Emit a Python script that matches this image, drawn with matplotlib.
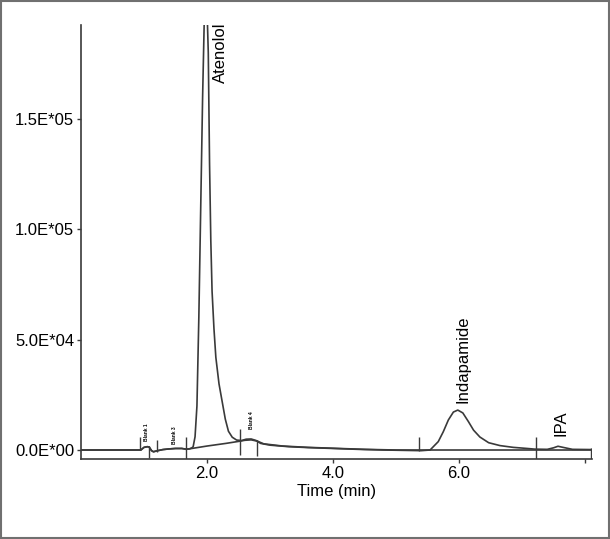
import matplotlib.pyplot as plt
from matplotlib.patches import Rectangle

plt.rcParams["font.family"] = ["Liberation Sans", "DejaVu Sans"]

# sample chromatogram (time in min, detector response)
sampleTime = [0.0, 0.9, 0.95, 1.0, 1.05, 1.08, 1.12, 1.15, 1.2, 1.3, 1.4, 1.5, 1.6, 1.67,
              1.72, 1.76, 1.78, 1.81, 1.84, 1.87, 1.90, 1.93, 1.96, 1.98, 2.0, 2.02, 2.04,
              2.06, 2.08, 2.11, 2.14, 2.19, 2.24, 2.29, 2.34, 2.40, 2.47, 2.55, 2.62, 2.7,
              2.78, 2.85, 3.0, 3.3, 3.6, 4.0, 4.4, 4.8, 5.4, 5.54, 5.67, 5.75, 5.83, 5.91,
              5.98, 6.06, 6.15, 6.23, 6.33, 6.47, 6.65, 6.86, 7.08, 7.2, 7.4, 7.5, 7.57,
              7.65, 7.8, 8.11]
sampleSignal = [0, 0, 0, 1200, 1500, 1400, -300, -800, -400, 200, 500, 700, 700, 400,
                500, 1000, 1500, 6000, 20000, 60000, 110000, 160000, 200000, 205000, 200000,
                180000, 130000, 95000, 72000, 55000, 42000, 30000, 22000, 14000, 8500, 5800,
                4500, 4300, 4900, 5000, 4300, 3000, 2200, 1500, 1100, 700, 300, 0, -300, 0,
                3800, 8300, 13600, 17200, 18100, 16800, 12800, 9000, 5900, 3300, 2000, 1200,
                700, 400, 300, 1000, 1700, 1200, 300, 200]

# blank chromatogram
blankTime = [0.0, 0.9, 0.95, 1.0, 1.05, 1.08, 1.12, 1.15, 1.2, 1.3, 1.4, 1.5, 1.6, 1.67,
             2.0, 2.3, 2.5, 2.6, 2.7, 2.8, 2.9, 3.2, 3.6, 4.0, 4.5, 5.0, 6.0, 7.0, 8.11]
blankSignal = [0, 0, 0, 1200, 1500, 1400, -300, -800, -400, 200, 500, 700, 700, 300,
               1800, 3000, 3900, 4400, 4600, 4000, 2800, 1800, 1200, 800, 300, 0, 0, 0, 0]

# integration event markers
markerTimes = [0.94, 1.08, 1.2, 1.67, 2.52, 2.8, 5.37, 7.22, 8.1]
markerLow = [0, -3600, -900, -4000, -2300, -2700, -300, -4000, -4000]
markerHigh = [5800, 1800, 4500, 5900, 9500, 4500, 5900, 5900, 1000]

yTicks = [0, 50000, 100000, 150000]
yTickLabels = ["0.0E*00", "5.0E*04", "1.0E*05", "1.5E*05"]
xTicks = [2, 4, 6, 8]
xTickLabels = ["2.0", "4.0", "6.0", ""]

lineColor = "#3a3a3a"

fig = plt.figure(figsize=(6.1, 5.39), dpi=100)
ax = fig.add_axes([0.1328, 0.1484, 0.8377, 0.8052])

ax.plot(blankTime, blankSignal, color=lineColor, linewidth=1.2)
ax.plot(sampleTime, sampleSignal, color=lineColor, linewidth=1.2)
ax.vlines(markerTimes, markerLow, markerHigh, color=lineColor, linewidth=1.0)

# peak labels
ax.text(2.21, 180000, "Atenolol", rotation=90, ha="center", va="center", fontsize=12)
ax.text(6.06, 41000, "Indapamide", rotation=90, ha="center", va="center", fontsize=12)
ax.text(7.62, 12000, "IPA", rotation=90, ha="center", va="center", fontsize=12)
ax.text(1.04, 8000, "Blank 1", rotation=90, ha="center", va="center", fontsize=3.5, fontweight="bold")
ax.text(1.48, 6800, "Blank 3", rotation=90, ha="center", va="center", fontsize=3.5, fontweight="bold")
ax.text(2.71, 13500, "Blank 4", rotation=90, ha="center", va="center", fontsize=3.5, fontweight="bold")

ax.set_xlim(0, 8.11)
ax.set_ylim(-4080, 192600)
ax.set_yticks(yTicks)
ax.set_yticklabels(yTickLabels)
ax.set_xticks(xTicks)
ax.set_xticklabels(xTickLabels)
ax.tick_params(axis="both", labelsize=12, length=3, width=1, color=lineColor, pad=2)
ax.set_xlabel("Time (min)", fontsize=12, labelpad=2)

ax.spines["top"].set_visible(False)
ax.spines["right"].set_visible(False)
ax.spines["left"].set_color(lineColor)
ax.spines["bottom"].set_color(lineColor)
ax.spines["left"].set_linewidth(1.2)
ax.spines["bottom"].set_linewidth(1.2)

# grey frame round the whole picture
fig.patches.append(Rectangle((0.002, 0.002), 0.996, 0.996, transform=fig.transFigure,
                             fill=False, edgecolor="#707070", linewidth=1.5))

fig.savefig("out.png", dpi=100)
